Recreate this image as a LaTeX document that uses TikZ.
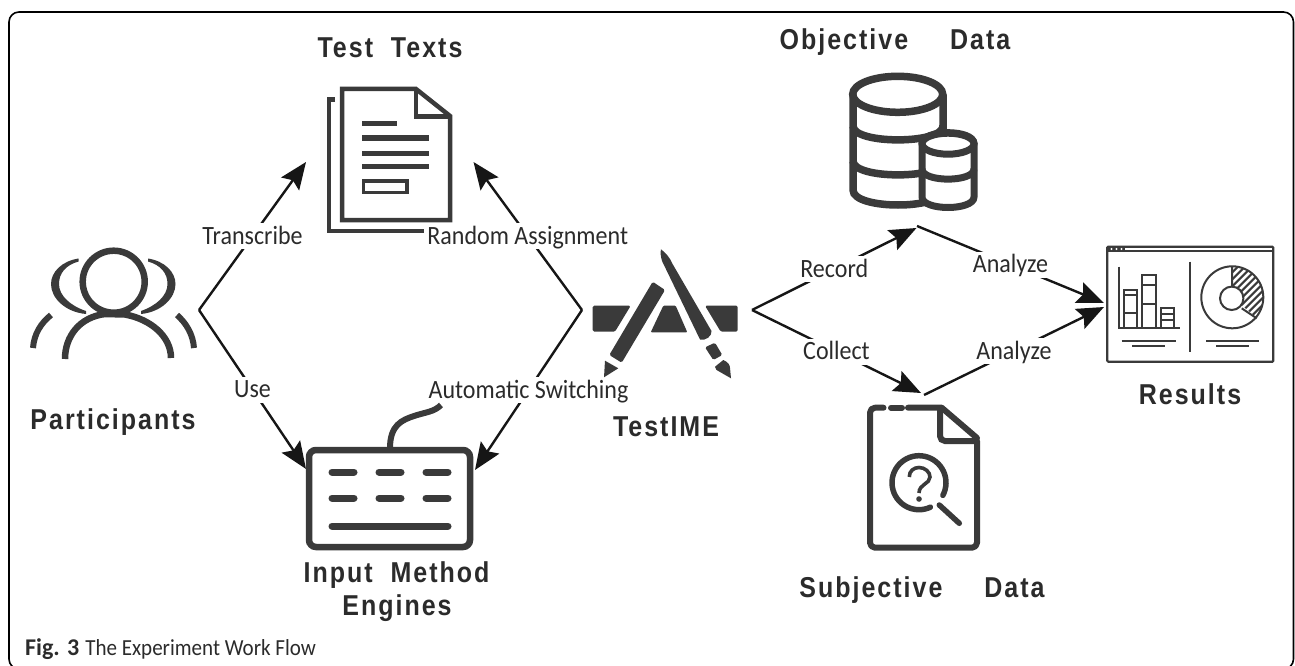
\documentclass[tikz,border=0pt]{standalone}
\usepackage{fontspec}
\usetikzlibrary{arrows.meta}
\setmainfont{Carlito}
\newfontfamily\titlefont[LetterSpace=8]{Liberation Sans Bold}
\definecolor{ink}{HTML}{3A3A3A}
\definecolor{txt}{HTML}{2B2B2B}
\definecolor{arr}{HTML}{161616}
\newcommand{\tall}[1]{\scalebox{1}[1.15]{#1}}
\newcommand{\lbl}[1]{\scalebox{1}[1.1]{#1}}
\tikzset{
  icon/.style={draw=ink,line width=6pt,fill=none},
  iconfill/.style={fill=ink,draw=none},
  thin icon/.style={draw=ink,line width=2pt},
  title/.style={font=\titlefont\fontsize{25}{25}\selectfont,text=txt,inner sep=0pt,align=center,anchor=base},
  lab/.style={font=\fontsize{24}{24}\selectfont,text=txt,fill=white,inner sep=1pt,text height=20pt,text depth=4pt},
  conn/.style={draw=arr,line width=2.4pt},
  arrowline/.style={conn,-{Stealth[length=27pt,width=22pt,inset=4.5pt]}},
}
\begin{document}
\begin{tikzpicture}[x=1pt,y=-1pt]
\useasboundingbox (0,0) rectangle (1295,666);
\draw[black,line width=1.6pt,rounded corners=10pt] (9,12) rectangle (1293.5,669);

% free ends of connectors
\coordinate (pApex) at (199,310);
\coordinate (tApex) at (582,310);
\coordinate (rApex) at (752,310);
\coordinate (textsL) at (306,162);
\coordinate (textsR) at (473.5,162);
\coordinate (kbL) at (306,469);
\coordinate (kbR) at (475,470);
\coordinate (objIn) at (916.5,228);
\coordinate (objOut) at (917,226);
\coordinate (subIn) at (921,393);
\coordinate (subOut) at (924,395);
\coordinate (resA) at (1104,303);
\coordinate (resB) at (1104,307);

% connectors
\draw[arrowline] (pApex) -- node[lab] (lTranscribe) {\lbl{Transcribe}} (textsL);
\draw[arrowline] (pApex) -- node[lab] (lUse) {\lbl{Use}} (kbL);
\draw[arrowline] (tApex) -- node[lab] (lRandom) {\lbl{Random Assignment}} (textsR);
\draw[arrowline] (tApex) -- node[lab] (lAuto) {\lbl{Automatic Switching}} (kbR);
\draw[arrowline] (rApex) -- node[lab] (lRecord) {\lbl{Record}} (objIn);
\draw[arrowline] (rApex) -- node[lab] (lCollect) {\lbl{Collect}} (subIn);
\draw[arrowline] (objOut) -- node[lab] (lAn1) {\lbl{Analyze}} (resA);
\draw[arrowline] (subOut) -- node[lab] (lAn2) {\lbl{Analyze}} (resB);

% Test Texts icon
\draw[draw=ink,line width=4.5pt] (335,99.5) -- (329,99.5) -- (329,231) -- (424,231);
\draw[draw=ink,line width=4.5pt,line join=miter,fill=white] (342,89) -- (416,89) -- (450,116) -- (450,220) -- (342,220) -- cycle;
\draw[draw=ink,line width=4.5pt] (416,89) -- (416,116.5) -- (450,116.5);
\foreach \yy/\xe in {124/397,138/429,153/429,166/429}
  \draw[draw=ink,line width=5pt] (362,\yy) -- (\xe,\yy);
\draw[draw=ink,line width=3.5pt] (363.5,181) rectangle (407,192.5);

% Participants icon
\draw[icon,line width=6.5pt] (113.7,281.7) circle (31pt);
\fill[iconfill] (78.5,258.5) .. controls (62,261) and (51,272) .. (51,284) .. controls (51,298) and (65,312) .. (86,314) -- (86,311) .. controls (71,306) and (59,296) .. (59,284) .. controls (59,273) and (66,265) .. (78.5,261.5) -- cycle;
\fill[iconfill] (148,258.5) .. controls (164.5,261) and (175.5,272) .. (175.5,284) .. controls (175.5,298) and (161.5,312) .. (141,314) -- (141,311) .. controls (155.5,306) and (167.5,296) .. (167.5,284) .. controls (167.5,273) and (160.5,265) .. (148,261.5) -- cycle;
\draw[icon,line width=6.5pt] (65,359) .. controls (65,336) and (80,317) .. (105,314) -- (125,314.5) .. controls (150,319) and (171,336) .. (171,358);
\draw[icon] (51,315) .. controls (41,323) and (34,334) .. (33,348);
\draw[icon] (177,315) .. controls (186,323) and (193,334) .. (194,348);

% Keyboard icon
\draw[icon,line width=6.5pt,rounded corners=7pt] (309,450) rectangle (470,547);
\draw[icon] (390,448) .. controls (390,425) and (402,420) .. (414,416) .. controls (426,412) and (434,412) .. (441,405);
\foreach \yy in {472,498}
  \foreach \xa/\xb in {332/354,379/401,426/448}
    \draw[draw=ink,line width=7pt,line cap=round] (\xa,\yy) -- (\xb,\yy);
\draw[draw=ink,line width=7pt,line cap=round] (332,526) -- (448,526);

% TestIME icon
\fill[iconfill,rounded corners=1.5pt] (592.7,305.7) -- (630.7,305.7) -- (615,331.7) -- (592.7,331.7) -- cycle;
\fill[iconfill,rounded corners=1pt] (663.3,305.7) -- (675.7,305.7) -- (687.3,332.3) -- (650.7,332.3) -- cycle;
\fill[iconfill,rounded corners=1.5pt] (705,305.7) -- (737.7,305.7) -- (737.7,331.7) -- (720.7,331.7) -- cycle;
\fill[iconfill,rounded corners=1.5pt] (652.7,281.7) -- (665,290) -- (621.7,362.7) -- (609.3,355) -- cycle;
\fill[iconfill] (605,360.7) -- (618.3,368.3) -- (604,377.3) -- cycle;
\fill[iconfill] (661,249.3) .. controls (666,253) and (670,258) .. (672,263) -- (711.5,331) .. controls (712,336) and (706,341) .. (700,339.5) -- (662,261) .. controls (661,257) and (660,253) .. (661,249.3) -- cycle;
\fill[iconfill,rounded corners=1.5pt] (705,347.3) -- (715,342.7) -- (722.3,355) -- (713.3,360) -- cycle;
\fill[iconfill] (715,366.7) -- (723.3,360) .. controls (728,362) and (730,365) .. (730,368) -- (731,378.3) -- (720,372) .. controls (717,371) and (715,369) .. (715,366.7) -- cycle;

% Objective Data icon
\draw[icon,line width=7.5pt] (853,94.3) -- (853,190) .. controls (853,210) and (943,210) .. (943,190) -- (943,94.3);
\draw[icon,line width=7.5pt] (897.7,94.3) ellipse (45pt and 18pt);
\draw[icon,line width=7.5pt] (853,126) .. controls (853,144.5) and (943,144.5) .. (943,126);
\draw[icon,line width=7.5pt] (853,161) .. controls (853,179.5) and (943,179.5) .. (943,161);
\draw[draw=ink,line width=7pt,fill=white] (922,143.7) -- (922,197) .. controls (922,211) and (974,211) .. (974,197) -- (974,143.7) .. controls (974,129) and (922,129) .. (922,143.7) -- cycle;
\draw[icon,line width=7pt] (948,143.7) ellipse (26pt and 10.5pt);
\draw[icon,line width=7pt] (922,169) .. controls (922,182.5) and (974,182.5) .. (974,169);

% Subjective Data icon
\draw[draw=ink,line width=6pt,line cap=round,line join=round,rounded corners=5pt] (883.5,407.7) -- (870,407.7) -- (870,547.7) -- (977,547.7) -- (977,441);
\draw[draw=ink,line width=6pt,line cap=round] (891,407.7) -- (902,407.7);
\draw[draw=ink,line width=6pt,line cap=round,line join=round] (908,407.7) -- (941.7,407.7) -- (977,438);
\draw[draw=ink,line width=6pt,rounded corners=5pt] (940,410) -- (940,441) -- (977,441);
\draw[draw=ink,line width=5.5pt,line cap=round,shift={(919,482.7)}] plot[domain=-295:28,samples=50] ({27*cos(\x)},{27*sin(\x)});
\draw[draw=ink,line width=5.5pt,line cap=round] (939.3,505) -- (959.3,523.3);
\draw[draw=ink,line width=3.6pt] (909.3,477) .. controls (909,471) and (914,467.5) .. (919,467.5) .. controls (925,467.5) and (930,472) .. (930,477) .. controls (930,484) and (919,484) .. (919,493);
\fill[ink] (919,499) circle (2.8pt);

% Results icon
\draw[thin icon,rounded corners=1pt,line width=2.2pt] (1107.3,246.7) rectangle (1273.3,361.7);
\draw[thin icon] (1107.3,251.3) -- (1273.3,251.3);
\fill[ink] (1107.3,246.7) rectangle (1125,251.3);
\foreach \xx in {1111.5,1116.5,1121.5} \fill[white] (\xx,249) circle (1.1pt);
\draw[thin icon] (1119,266.7) -- (1119,328.3) -- (1180,328.3);
\draw[thin icon] (1124,328.3) -- (1124,290) -- (1137.3,290) -- (1137.3,328.3) (1124,295) -- (1137.3,295) (1124,313.3) -- (1137.3,313.3);
\draw[thin icon] (1141.7,328.3) -- (1141.7,275) -- (1155.7,275) -- (1155.7,328.3) (1141.7,285) -- (1155.7,285) (1141.7,304) -- (1155.7,304);
\draw[thin icon] (1160.7,328.3) -- (1160.7,308.3) -- (1174,308.3) -- (1174,328.3) (1160.7,314) -- (1174,314) (1160.7,320) -- (1174,320);
\draw[thin icon] (1121.7,341) -- (1176,341) (1132.3,346.3) -- (1165,346.3);
\draw[thin icon] (1190.3,261.7) -- (1190.3,352.3);
\begin{scope}
  \clip (1232.3,297.3) -- plot[domain=-90:40,samples=30] ({1232.3+31*cos(\x)},{297.3+31*sin(\x)}) -- cycle;
  \foreach \d in {-60,-53,...,60}
    \draw[draw=ink,line width=2pt] ({1232.3+\d-50},{297.3+50}) -- ({1232.3+\d+50},{297.3-50});
\end{scope}
\draw[thin icon] (1232.3,297.3) circle (31pt);
\draw[thin icon,fill=white] (1231.7,298.3) circle (11.7pt);
\draw[thin icon] (1232,266.5) -- (1232,287) (1241.7,308.3) -- (1256.7,318.3);
\draw[thin icon] (1206,341) -- (1259.3,341) (1216,346.3) -- (1249,346.3);

% Titles
\node[title] (tTexts) at (390,57.3) {\tall{Test\ \ Texts}};
\node[title] (tObj) at (895,50) {\tall{Objective\hspace{42pt}Data}};
\node[title] (tPart) at (113,429) {\tall{Participants}};
\node[title] (tIME) at (666,436) {\tall{TestIME}};
\node[title] (tRes) at (1190,404) {\tall{Results}};
\node[title] (tInput) at (396.5,582.7) {\tall{Input\ \ Method}};
\node[title] (tEng) at (397,615) {\tall{Engines}};
\node[title] (tSub) at (922,597.3) {\tall{Subjective\hspace{42pt}Data}};

% Caption
\node[anchor=base west,inner sep=0pt,text=txt] (cap) at (25,655) {\fontsize{24}{24}\selectfont\textbf{Fig. 3}\hspace{6pt}\fontsize{23}{23}\selectfont\scalebox{0.915}[1]{The Experiment Work Flow}};
\end{tikzpicture}
\end{document}
